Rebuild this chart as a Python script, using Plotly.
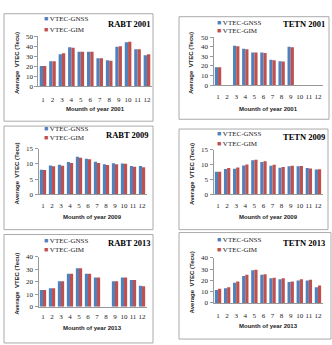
import plotly.graph_objects as go

months = list(range(1, 13))
month_labels = [str(m) for m in months]
series_names = ["VTEC-GNSS", "VTEC-GIM"]
colors = ["#4F81BD", "#C0504D"]

rabt2001_gnss = [20, 25, 32, 39, 34.5, 34.5, 28, 26, 39.5, 44, 37, 31]
rabt2001_gim = [20, 25, 33, 38.5, 34.5, 34.5, 28, 25.5, 40, 44.5, 37, 32]
tetn2001_gnss = [18.5, None, 41, 38, 34, 34, 26.5, 25, 40, None, None, None]
tetn2001_gim = [18.5, None, 40.5, 37.5, 34, 33.5, 26, 24.5, 39.5, None, None, None]
rabt2009_gnss = [8.1, 9.5, 9.7, 10.6, 12.3, 11.7, 10.7, 9.9, 10.2, 10.1, 9.3, 9.3]
rabt2009_gim = [8.0, 9.2, 9.4, 10.3, 12.0, 11.5, 10.3, 9.6, 9.9, 10.0, 9.1, 8.9]
tetn2009_gnss = [7.6, 8.5, 8.6, 9.7, 11.4, 10.8, 9.6, 8.9, 9.4, 9.4, 8.8, 8.3]
tetn2009_gim = [7.6, 8.8, 9.0, 10.0, 11.6, 11.1, 9.9, 9.2, 9.6, 9.5, 8.7, 8.4]
rabt2013_gnss = [13.5, 15, 20.5, 26.5, 31, 26.5, 23.5, None, 20.5, 23.5, 21.5, 17]
rabt2013_gim = [13.5, 15, 20.5, 26.5, 31, 26.5, 23.5, None, 20.5, 23.5, 21.5, 16.5]
tetn2013_gnss = [11.5, 13, 18, 24, 29, 25, 22, 21, 18.5, 20, 20, 14]
tetn2013_gim = [12.5, 14, 19, 25, 29.5, 25.5, 22.5, 22, 19, 21, 20.5, 15.5]

titles = ["RABT 2001", "TETN 2001", "RABT 2009", "TETN 2009", "RABT 2013", "TETN 2013"]
xtitles = ["Mounth of year 2001", "Mounth of year 2001", "Mounth of year 2009",
           "Mounth of year 2009", "Mounth of year 2013", "Mounth of year 2013"]
ytitle = "Average  VTEC (Tecu)"
ymaxes = [50, 50, 15, 15, 40, 40]
dticks = [10, 10, 5, 5, 10, 10]
data = [
    (rabt2001_gnss, rabt2001_gim),
    (tetn2001_gnss, tetn2001_gim),
    (rabt2009_gnss, rabt2009_gim),
    (tetn2009_gnss, tetn2009_gim),
    (rabt2013_gnss, rabt2013_gim),
    (tetn2013_gnss, tetn2013_gim),
]

W, H = 332, 345
def px(x): return x / W
def py(y): return 1 - y / H

# layout geometry in pixels
layouts = [
    dict(box=(4, 10, 153, 120), plot=(38.3, 151.7, 33, 84), lab=13, ytx=17, xty=107,
         leg=(43, 15, 27), tt=(152, 20)),
    dict(box=(179, 13, 329, 118), plot=(213.5, 322.5, 34, 83), lab=11, ytx=191, xty=108,
         leg=(216, 19, 28), tt=(326, 20)),
    dict(box=(4, 125, 153, 231), plot=(38.5, 146.5, 148, 195), lab=10, ytx=17, xty=218,
         leg=(43, 128, 137), tt=(150, 134)),
    dict(box=(179, 128, 328, 231), plot=(213.5, 322.5, 149, 195), lab=10, ytx=192, xty=218,
         leg=(216, 133, 143), tt=(326, 136)),
    dict(box=(4, 236, 153, 347), plot=(38.5, 146.5, 259, 310), lab=9, ytx=17, xty=332,
         leg=(43, 243, 252), tt=(152, 245)),
    dict(box=(179, 234, 331, 343), plot=(213.5, 322.5, 260, 306), lab=12, ytx=192, xty=330,
         leg=(216, 242, 252), tt=(326, 245)),
]

fig = go.Figure()
shapes = []
annotations = []
serif = "Liberation Serif"
sans = "Liberation Sans"

for i, (lay, (g, m)) in enumerate(zip(layouts, data)):
    k = "" if i == 0 else str(i + 1)
    for s, (vals, name, col) in enumerate(zip((g, m), series_names, colors)):
        fig.add_trace(go.Bar(x=months, y=vals, name=name, marker=dict(color=col, line=dict(width=0)),
                             xaxis="x" + k, yaxis="y" + k, showlegend=False))
    l, r, t, b = lay["plot"]
    fig.update_layout(**{
        "xaxis" + k: dict(domain=[px(l), px(r)], anchor="y" + k, range=[0.5, 12.5],
                          tickvals=months, ticktext=month_labels, showline=True,
                          linecolor="#999", linewidth=1, showgrid=False, zeroline=False,
                          ticks="outside", ticklen=lay["lab"] - 6, tickcolor="rgba(0,0,0,0)",
                          tickangle=0,
                          tickfont=dict(family=serif, size=7, color="#222"), fixedrange=True),
        "yaxis" + k: dict(domain=[py(b), py(t)], anchor="x" + k, range=[0, ymaxes[i]],
                          dtick=dticks[i], showline=True, linecolor="#999", linewidth=1,
                          ticks="outside", ticklen=3, tickcolor="#999", showgrid=False,
                          zeroline=False, tickfont=dict(family=serif, size=7, color="#222"),
                          fixedrange=True),
    })
    bx0, by0, bx1, by1 = lay["box"]
    shapes.append(dict(type="rect", xref="paper", yref="paper", x0=px(bx0), x1=px(bx1),
                       y0=py(by1), y1=py(by0), line=dict(color="#aaa", width=1)))
    # y title
    annotations.append(dict(text="<b>" + ytitle + "</b>", textangle=-90, xref="paper", yref="paper",
                            x=px(lay["ytx"]), y=py((t + b) / 2 + 2), showarrow=False,
                            xanchor="center", yanchor="middle", borderpad=0,
                            font=dict(family=sans, size=6, color="#222")))
    # x title
    annotations.append(dict(text="<b>" + xtitles[i] + "</b>", xref="paper", yref="paper",
                            x=px((l + r) / 2), y=py(lay["xty"]), showarrow=False,
                            xanchor="center", yanchor="middle", borderpad=0,
                            font=dict(family=sans, size=6, color="#222")))
    # legend entries
    lx, ly1, ly2 = lay["leg"]
    for name, col, ly in zip(series_names, colors, (ly1, ly2)):
        annotations.append(dict(text='<span style="color:%s">■</span> %s' % (col, name),
                                xref="paper", yref="paper", x=px(lx), y=py(ly),
                                showarrow=False, xanchor="left", yanchor="middle", borderpad=0,
                                font=dict(family=serif, size=7, color="#222")))
    # panel title
    tx, ty = lay["tt"]
    annotations.append(dict(text="<b>" + titles[i] + "</b>", xref="paper", yref="paper",
                            x=px(tx), y=py(ty), showarrow=False, xanchor="right", yanchor="middle",
                            borderpad=0, font=dict(family=serif, size=8.5, color="#000")))

fig.update_layout(width=W, height=H, margin=dict(l=0, r=0, t=0, b=0),
                  paper_bgcolor="white", plot_bgcolor="white",
                  barmode="group", bargap=0.3, bargroupgap=0,
                  shapes=shapes, annotations=annotations, showlegend=False)

fig.write_html("out.html", config={"displayModeBar": False})
